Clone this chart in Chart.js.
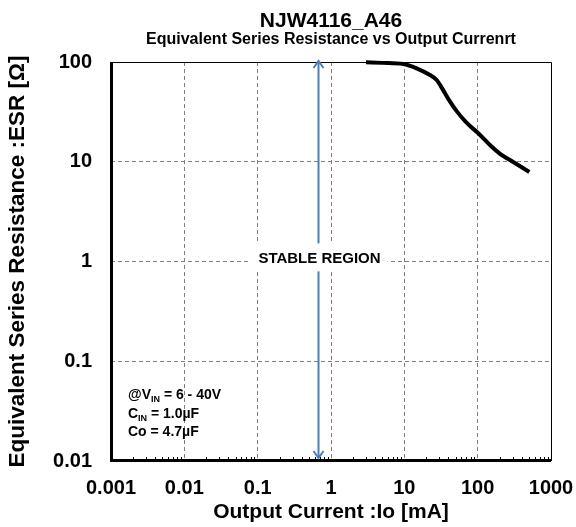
<!DOCTYPE html>
<html>
<head>
<meta charset="utf-8">
<script src="https://cdn.jsdelivr.net/npm/chart.js@4.4.1/dist/chart.umd.min.js"></script>
<style>
    html, body { margin: 0; padding: 0; background: #fff; }
    #wrap { width: 576px; height: 527px; }
</style>
</head>
<body>
<div id="wrap"><canvas id="esrChart"></canvas></div>
<script>
/**
 * NJW4116_A46 ESR stability chart
 */

// Measured boundary (upper limit of stable ESR)
const currentMa = [3, 5, 9.7, 14.7, 22.4, 27.6, 34, 42, 52, 71, 102, 147, 202, 276, 507];
const esrOhm = [99.5, 98, 95.5, 86.5, 74, 66, 52, 40, 32, 24.5, 19.3, 14.7, 12, 10.4, 7.9];

// Axis ticks
const xTickValues = [0.001, 0.01, 0.1, 1, 10, 100, 1000];
const xTickLabels = ['0.001', '0.01', '0.1', '1', '10', '100', '1000'];
const yTickValues = [0.01, 0.1, 1, 10, 100];
const yTickLabels = ['0.01', '0.1', '1', '10', '100'];

// Annotations
const chartTitle = 'NJW4116_A46';
const chartSubtitle = 'Equivalent Series Resistance vs Output Currenrt';
const stableArrowX = 0.665;     // mA
const stableLabel = 'STABLE REGION';
const stableLabelY = 1.1;       // ohm

const FONT = '"Liberation Sans", Arial, sans-serif';
const ARROW_BLUE = '#4a7ebb';

/**
 * Draws title, frame, minor ticks, arrow and text notes
 */
const decorPlugin = {
    id: 'decor',
    afterDraw(chart) {
        const ctx = chart.ctx;
        const area = chart.chartArea;
        const xs = chart.scales.x;
        const ys = chart.scales.y;
        const cx = (area.left + area.right) / 2;

        ctx.save();
        ctx.fillStyle = '#000';
        ctx.textAlign = 'center';
        ctx.textBaseline = 'alphabetic';
        ctx.font = 'bold 21px ' + FONT;
        ctx.fillText(chartTitle, cx, 27);
        ctx.font = 'bold 16px ' + FONT;
        ctx.fillText(chartSubtitle, cx, 44);

        // minor ticks on the bottom axis, pointing inwards
        ctx.strokeStyle = '#000';
        ctx.lineWidth = 1;
        for (let d = -3; d < 3; d++) {
            for (let k = 2; k <= 9; k++) {
                const px = Math.round(xs.getPixelForValue(k * Math.pow(10, d))) + 0.5;
                ctx.beginPath();
                ctx.moveTo(px, area.bottom);
                ctx.lineTo(px, area.bottom - 4);
                ctx.stroke();
            }
        }

        // frame: thin top / right, heavy left / bottom
        ctx.lineWidth = 1;
        ctx.beginPath();
        ctx.moveTo(area.left, area.top + 0.5);
        ctx.lineTo(area.right + 0.5, area.top + 0.5);
        ctx.lineTo(area.right + 0.5, area.bottom);
        ctx.stroke();
        ctx.lineWidth = 3;
        ctx.beginPath();
        ctx.moveTo(area.left + 0.5, area.top);
        ctx.lineTo(area.left + 0.5, area.bottom - 0.5);
        ctx.lineTo(area.right, area.bottom - 0.5);
        ctx.stroke();

        // stable region arrow
        const ax = Math.round(xs.getPixelForValue(stableArrowX)) + 0.5;
        const top = ys.getPixelForValue(ys.max) - 2;
        const bottom = ys.getPixelForValue(ys.min) - 2;
        const ly = ys.getPixelForValue(stableLabelY);
        ctx.strokeStyle = ARROW_BLUE;
        ctx.lineWidth = 2;
        ctx.beginPath();
        ctx.moveTo(ax, top + 2);
        ctx.lineTo(ax, bottom - 2);
        ctx.stroke();
        ctx.beginPath();
        ctx.moveTo(ax - 5, top + 8);
        ctx.lineTo(ax, top + 1);
        ctx.lineTo(ax + 5, top + 8);
        ctx.moveTo(ax - 5, bottom - 8);
        ctx.lineTo(ax, bottom - 1);
        ctx.lineTo(ax + 5, bottom - 8);
        ctx.stroke();

        ctx.font = 'bold 15px ' + FONT;
        const tw = ctx.measureText(stableLabel).width;
        ctx.fillStyle = '#fff';
        ctx.fillRect(ax - tw / 2 - 8, ly - 14, tw + 16, 28);
        ctx.fillStyle = '#000';
        ctx.textBaseline = 'middle';
        ctx.fillText(stableLabel, ax + 1, ly + 1);

        // test condition note
        drawConditions(ctx, area.left + 17, area.bottom - 62);
        ctx.restore();
    }
};

/**
 * Helper: text with subscripts, parts = [[text, isSub], ...]
 */
function drawSubText(ctx, x, y, parts) {
    ctx.textAlign = 'left';
    ctx.textBaseline = 'alphabetic';
    parts.forEach(p => {
        ctx.font = p[1] ? 'bold 9px ' + FONT : 'bold 14px ' + FONT;
        ctx.fillText(p[0], x, p[1] ? y + 3 : y);
        x += ctx.measureText(p[0]).width;
    });
}

function drawConditions(ctx, x, y) {
    ctx.fillStyle = '#000';
    drawSubText(ctx, x, y, [['@V', false], ['IN', true], [' = 6 - 40V', false]]);
    drawSubText(ctx, x, y + 19, [['C', false], ['IN', true], [' = 1.0\u00b5F', false]]);
    drawSubText(ctx, x, y + 37, [['Co = 4.7\u00b5F', false]]);
}

function buildChart() {
    const ctx = document.getElementById('esrChart').getContext('2d');
    const points = currentMa.map((v, i) => ({ x: v, y: esrOhm[i] }));

    const gridColor = c => (c.tick && (c.index === 0 || c.index === c.scale.ticks.length - 1))
        ? 'rgba(0,0,0,0)' : '#808080';

    return new Chart(ctx, {
        type: 'scatter',
        data: {
            datasets: [{
                data: points,
                showLine: true,
                borderColor: '#000',
                borderWidth: 4,
                pointRadius: 0,
                tension: 0.4,
                cubicInterpolationMode: 'monotone',
                clip: false
            }]
        },
        options: {
            responsive: false,
            animation: false,
            layout: { padding: { top: 62, right: 25, left: 0, bottom: 0 } },
            plugins: {
                legend: { display: false },
                tooltip: { enabled: false }
            },
            scales: {
                x: {
                    type: 'logarithmic',
                    min: 0.001,
                    max: 1000,
                    afterBuildTicks: s => { s.ticks = xTickValues.map(v => ({ value: v })); },
                    afterFit: s => { s.height = 66; s.paddingLeft = 0; s.paddingRight = 0; },
                    grid: { color: gridColor, lineWidth: 1, drawTicks: false },
                    border: { display: false, dash: [4, 3] },
                    ticks: {
                        padding: 15,
                        color: '#000',
                        font: { family: FONT, size: 20, weight: 'bold' },
                        callback: (v, i) => xTickLabels[i]
                    },
                    title: {
                        display: true,
                        text: 'Output Current :Io [mA]',
                        color: '#000',
                        font: { family: FONT, size: 21, weight: 'bold' },
                        padding: { top: 0, bottom: 2 }
                    }
                },
                y: {
                    type: 'logarithmic',
                    min: 0.01,
                    max: 100,
                    afterBuildTicks: s => { s.ticks = yTickValues.map(v => ({ value: v })); },
                    afterFit: s => { s.width = 111; },
                    grid: { color: gridColor, lineWidth: 1, drawTicks: false },
                    border: { display: false, dash: [4, 3] },
                    ticks: {
                        padding: 19,
                        color: '#000',
                        font: { family: FONT, size: 20, weight: 'bold' },
                        callback: (v, i) => yTickLabels[i]
                    },
                    title: {
                        display: true,
                        text: 'Equivalent Series Resistance :ESR [\u03a9]',
                        color: '#000',
                        font: { family: FONT, size: 22.5, weight: 'bold' },
                        padding: { top: 4, bottom: 0 }
                    }
                }
            }
        },
        plugins: [decorPlugin]
    });
}

const canvas = document.getElementById('esrChart');
canvas.width = 576;
canvas.height = 527;
buildChart();
</script>
</body>
</html>
